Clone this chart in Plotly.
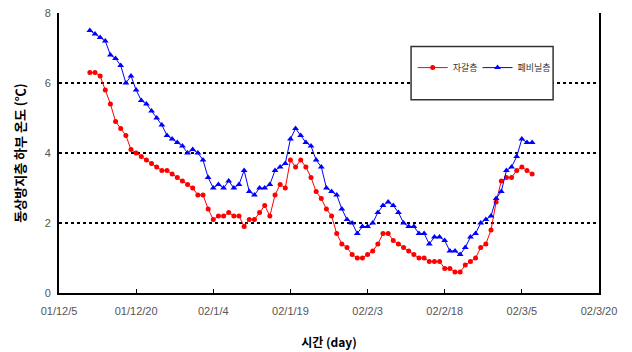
import pandas as pd
import plotly.graph_objects as go

start_date = "2001-12-11"
gravel = [6.3, 6.3, 6.2, 5.8, 5.4, 4.9, 4.7, 4.5, 4.1, 4.0,
          3.9, 3.8, 3.7, 3.6, 3.5, 3.5, 3.4, 3.3, 3.2, 3.1,
          3.0, 2.8, 2.8, 2.4, 2.1, 2.2, 2.2, 2.3, 2.2, 2.2,
          1.9, 2.1, 2.1, 2.3, 2.5, 2.2, 2.8, 3.1, 3.0, 3.8,
          3.6, 3.8, 3.6, 3.3, 2.9, 2.7, 2.4, 2.2, 1.7, 1.4,
          1.3, 1.1, 1.0, 1.0, 1.1, 1.2, 1.4, 1.7, 1.7, 1.5,
          1.4, 1.3, 1.2, 1.1, 1.0, 1.0, 0.9, 0.9, 0.9, 0.7,
          0.7, 0.6, 0.6, 0.8, 0.9, 1.0, 1.3, 1.4, 1.8, 2.6,
          3.2, 3.3, 3.3, 3.5, 3.6, 3.5, 3.4]
vinyl = [7.5, 7.4, 7.3, 7.2, 6.8, 6.7, 6.5, 6.0, 6.2, 5.8,
         5.5, 5.4, 5.2, 5.0, 4.8, 4.5, 4.4, 4.3, 4.2, 4.0,
         4.1, 4.0, 3.8, 3.3, 3.0, 3.1, 3.0, 3.2, 3.0, 3.1,
         3.5, 2.9, 2.8, 3.0, 3.0, 3.1, 3.5, 3.6, 3.7, 4.4,
         4.7, 4.5, 4.3, 4.2, 3.8, 3.6, 3.0, 2.9, 2.8, 2.4,
         2.1, 2.0, 1.7, 1.9, 1.9, 2.0, 2.3, 2.5, 2.6, 2.5,
         2.3, 2.0, 1.9, 1.9, 1.7, 1.7, 1.4, 1.6, 1.6, 1.5,
         1.2, 1.2, 1.1, 1.3, 1.6, 1.7, 2.0, 2.1, 2.2, 2.7,
         2.9, 3.5, 3.6, 3.9, 4.4, 4.3, 4.3]
tick_dates = ["2001-12-05", "2001-12-20", "2002-01-04", "2002-01-19",
              "2002-02-03", "2002-02-18", "2002-03-05", "2002-03-20"]
tick_labels = ["01/12/5", "01/12/20", "02/1/4", "02/1/19",
               "02/2/3", "02/2/18", "02/3/5", "02/3/20"]
series_names = ["자갈층", "폐비닐층"]

dates = pd.date_range(start_date, periods=len(gravel), freq="D")

fig = go.Figure()
fig.add_trace(go.Scatter(
    x=dates, y=gravel, name=series_names[0], mode="lines+markers",
    line=dict(color="#ff0000", width=1),
    marker=dict(symbol="circle", size=5, color="#ff0000"),
    legend="legend",
))
fig.add_trace(go.Scatter(
    x=dates, y=vinyl, name=series_names[1], mode="lines+markers",
    line=dict(color="#0000ff", width=1),
    marker=dict(symbol="triangle-up", size=6, color="#0000ff"),
    legend="legend2",
))

# legend frame (taller box as in the original)
fig.add_shape(type="rect", xref="paper", yref="paper",
              x0=0.652, x1=0.915, y0=0.69, y1=0.880,
              line=dict(color="#333", width=1.5), fillcolor="white",
              layer="above")

legend_style = dict(
    orientation="v", y=0.805, xanchor="left", yanchor="middle",
    bgcolor="rgba(0,0,0,0)", borderwidth=0,
    font=dict(family="Noto Sans CJK KR", size=9, color="#333"),
)

fig.update_layout(
    width=632, height=352,
    margin=dict(l=59, r=33, t=13, b=59),
    paper_bgcolor="white", plot_bgcolor="white",
    font=dict(family="Liberation Sans, Arial, sans-serif", size=11, color="#444"),
    showlegend=True,
    legend=dict(x=0.655, **legend_style),
    legend2=dict(x=0.775, **legend_style),
    xaxis=dict(
        type="date", automargin=False,
        range=[tick_dates[0], tick_dates[-1]],
        tickvals=tick_dates, ticktext=tick_labels,
        ticks="inside", ticklen=4, tickcolor="black", tickwidth=1,
        showline=True, linecolor="black", linewidth=2,
        showgrid=False, zeroline=False,
        ticklabelstandoff=7,
        tickfont=dict(size=11, color="#555"),
        title=dict(text="<b>시간 (day)</b>", standoff=22,
                   font=dict(family="Noto Sans CJK KR", size=12, color="black")),
    ),
    yaxis=dict(
        range=[0, 8], tickvals=[0, 2, 4, 6, 8], automargin=False,
        ticks="", showline=True, linecolor="black", linewidth=2, mirror=True,
        showgrid=True, gridcolor="black", griddash="dot", gridwidth=1.5,
        zeroline=False,
        ticklabelstandoff=4,
        tickfont=dict(size=11, color="#555"),
        title=dict(text="<b>동상방지층 하부 온도 (℃)</b>", standoff=16,
                   font=dict(family="Noto Sans CJK KR", size=13, color="black")),
    ),
)

fig.write_html("out.html")
